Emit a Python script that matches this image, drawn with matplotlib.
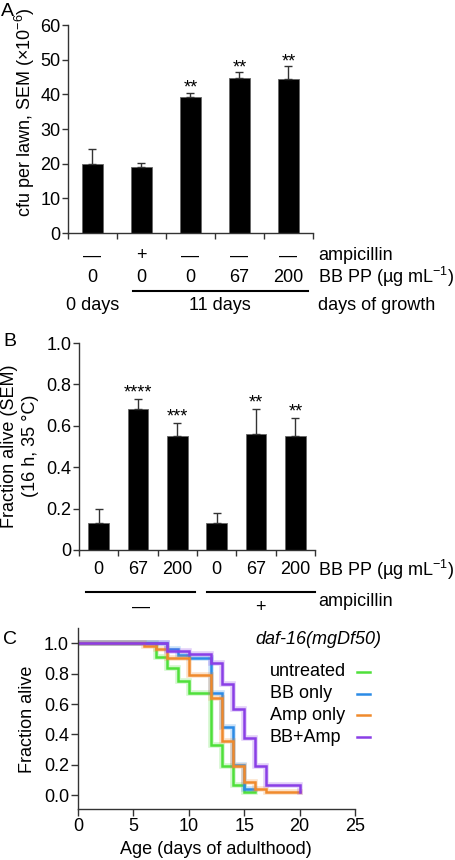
import matplotlib
matplotlib.use('Agg')
import matplotlib.pyplot as plt
from matplotlib import transforms
from matplotlib.lines import Line2D
import numpy as np

plt.rcParams['font.family'] = ['Liberation Sans', 'DejaVu Sans']
plt.rcParams['mathtext.fontset'] = 'custom'
plt.rcParams['mathtext.rm'] = 'Liberation Sans'
plt.rcParams['mathtext.it'] = 'Liberation Sans:italic'
plt.rcParams['font.size'] = 13

# ---------------- data ----------------
# Panel A
a_amp = ['—', '+', '—', '—', '—']
a_bbpp = ['0', '0', '0', '67', '200']
a_vals = [19.9, 19.0, 39.2, 44.7, 44.5]
a_err = [4.3, 1.2, 1.2, 1.7, 3.6]
a_sig = ['', '', '**', '**', '**']
a_days = ['0 days', '11 days']

# Panel B
b_bbpp = ['0', '67', '200', '0', '67', '200']
b_vals = [0.13, 0.68, 0.55, 0.13, 0.56, 0.55]
b_err = [0.07, 0.048, 0.063, 0.05, 0.12, 0.09]
b_sig = ['', '****', '***', '', '**', '**']
b_amp = ['—', '+']

# Panel C (Kaplan-Meier steps)
c_labels = ['untreated', 'BB only', 'Amp only', 'BB+Amp']
c_colors = ['#4fe03a', '#2b8be6', '#f08a2c', '#8a3fe6']
untreated_t = [0, 7, 8, 9, 10, 12, 13, 14, 15, 16]
untreated_s = [1.0, 0.91, 0.84, 0.75, 0.67, 0.33, 0.19, 0.07, 0.02, 0.02]
bb_t = [0, 8, 9, 10, 12, 13, 14, 15, 16]
bb_s = [1.0, 0.96, 0.92, 0.90, 0.67, 0.45, 0.20, 0.04, 0.04]
amp_t = [0, 6, 7, 8, 10, 12, 13, 14, 15, 16, 17, 20]
amp_s = [1.0, 0.98, 0.96, 0.90, 0.79, 0.64, 0.36, 0.19, 0.09, 0.04, 0.02, 0.02]
bbamp_t = [0, 8, 10, 12, 13, 14, 15, 16, 17, 20]
bbamp_s = [1.0, 0.95, 0.93, 0.87, 0.73, 0.565, 0.38, 0.19, 0.07, 0.02]
c_series = [(untreated_t, untreated_s), (bb_t, bb_s), (amp_t, amp_s), (bbamp_t, bbamp_s)]

# ---------------- figure ----------------
W, H = 456, 860
fig = plt.figure(figsize=(W / 100, H / 100), dpi=100)


def fx(px):
    return px / W


def fy(py):
    return 1 - py / H


def style_axes(ax, tl=4):
    for s in ['top', 'right']:
        ax.spines[s].set_visible(False)
    for s in ['left', 'bottom']:
        ax.spines[s].set_color('#333333')
        ax.spines[s].set_linewidth(1.0)
    ax.tick_params(direction='out', length=tl, width=1.0, color='#333333',
                   labelsize=13, pad=1.5)


# ---- Panel A ----
axA = fig.add_axes([fx(68), fy(233), fx(313) - fx(68), fy(25) - fy(233)])
xA = np.arange(len(a_vals))
axA.bar(xA, a_vals, width=0.43, color='black', edgecolor='#666666', linewidth=0.6, zorder=2)
axA.errorbar(xA, a_vals, yerr=[np.zeros(len(a_vals)), a_err], fmt='none',
             ecolor='#333333', elinewidth=1.0, capsize=3, capthick=1.0, zorder=3)
axA.set_xlim(-0.5, len(a_vals) - 0.5)
axA.set_ylim(0, 60)
axA.set_yticks(range(0, 61, 10))
axA.set_xticks(np.arange(-0.5, len(a_vals), 1.0))
axA.set_xticklabels([])
style_axes(axA)
for i, s in enumerate(a_sig):
    if s:
        axA.annotate(s, (xA[i], a_vals[i] + a_err[i]), xytext=(0, 0),
                     textcoords='offset points', ha='center', va='baseline', fontsize=13)

tA = transforms.blended_transform_factory(axA.transData, fig.transFigure)
for i in range(len(a_vals)):
    fig.text(xA[i], fy(256), a_amp[i], transform=tA, ha='center', va='center')
    fig.text(xA[i], fy(277), a_bbpp[i], transform=tA, ha='center', va='center')
fig.add_artist(Line2D([0.83, 4.4], [fy(291), fy(291)], transform=tA, color='black', lw=1.5))
fig.text(0, fy(306), a_days[0], transform=tA, ha='center', va='center')
fig.text(2.6, fy(306), a_days[1], transform=tA, ha='center', va='center')
fig.text(fx(318), fy(256), 'ampicillin', ha='left', va='center')
fig.text(fx(318), fy(277), 'BB PP (µg mL$^{-1}$)', ha='left', va='center')
fig.text(fx(318), fy(306), 'days of growth', ha='left', va='center')
fig.text(fx(25), fy(112), 'cfu per lawn, SEM (×10$^{-6}$)', rotation=90,
         ha='center', va='center')
fig.text(fx(1), fy(12), 'A', ha='left', va='center', fontsize=14)

# ---- Panel B ----
axB = fig.add_axes([fx(79), fy(550), fx(315) - fx(79), fy(343) - fy(550)])
xB = np.arange(len(b_vals))
axB.bar(xB, b_vals, width=0.53, color='black', edgecolor='#666666', linewidth=0.6, zorder=2)
axB.errorbar(xB, b_vals, yerr=[np.zeros(len(b_vals)), b_err], fmt='none',
             ecolor='#333333', elinewidth=1.0, capsize=3, capthick=1.0, zorder=3)
axB.set_xlim(-0.5, len(b_vals) - 0.5)
axB.set_ylim(0, 1.0)
axB.set_yticks([0, 0.2, 0.4, 0.6, 0.8, 1.0])
axB.set_yticklabels(['0', '0.2', '0.4', '0.6', '0.8', '1.0'])
axB.set_xticks(np.arange(-0.5, len(b_vals), 1.0))
axB.set_xticklabels([])
style_axes(axB)
for i, s in enumerate(b_sig):
    if s:
        axB.annotate(s, (xB[i], b_vals[i] + b_err[i]), xytext=(0, 1.0),
                     textcoords='offset points', ha='center', va='baseline', fontsize=13)

tB = transforms.blended_transform_factory(axB.transData, fig.transFigure)
for i in range(len(b_vals)):
    fig.text(xB[i], fy(570), b_bbpp[i], transform=tB, ha='center', va='center')
fig.add_artist(Line2D([-0.32, 2.45], [fy(592), fy(592)], transform=tB, color='black', lw=1.5))
fig.add_artist(Line2D([2.75, 5.5], [fy(592), fy(592)], transform=tB, color='black', lw=1.5))
fig.text(1.07, fy(607), b_amp[0], transform=tB, ha='center', va='center')
fig.text(4.12, fy(608), b_amp[1], transform=tB, ha='center', va='center')
fig.text(fx(318), fy(570), 'BB PP (µg mL$^{-1}$)', ha='left', va='center')
fig.text(fx(318), fy(602), 'ampicillin', ha='left', va='center')
fig.text(fx(20), fy(446), 'Fraction alive (SEM)\n(16 h, 35 °C)', rotation=90,
         ha='center', va='center', multialignment='center', linespacing=1.25)
fig.text(fx(3), fy(342), 'B', ha='left', va='center', fontsize=14)

# ---- Panel C ----
axC = fig.add_axes([fx(78), fy(809), fx(355) - fx(78), fy(628) - fy(809)])
for (t, s), col in zip(c_series, c_colors):
    axC.step(t, s, where='post', color=col, lw=4.0, alpha=0.25, solid_joinstyle='miter')
    axC.step(t, s, where='post', color=col, lw=1.8, solid_joinstyle='miter')
axC.set_xlim(0, 25)
axC.set_ylim(-0.09, 1.1)
axC.set_xticks(range(0, 26, 5))
axC.set_yticks([0, 0.2, 0.4, 0.6, 0.8, 1.0])
axC.set_yticklabels(['0.0', '0.2', '0.4', '0.6', '0.8', '1.0'])
style_axes(axC, tl=5)
fig.text(fx(216), fy(850), 'Age (days of adulthood)', ha='center', va='center')
fig.text(fx(28), fy(719), 'Fraction alive', rotation=90, ha='center', va='center')
fig.text(fx(3), fy(639), 'C', ha='left', va='center', fontsize=14)

fig.text(fx(255), fy(640), 'daf-16(mgDf50)', ha='left', va='center', style='italic')
for i, (lab, col) in enumerate(zip(c_labels, c_colors)):
    yy = fy(672 + 21.7 * i)
    fig.text(fx(270), yy, lab, ha='left', va='center')
    fig.add_artist(Line2D([fx(357), fx(370)], [yy, yy], color=col, lw=1.8))

fig.savefig('out.png', dpi=100)
